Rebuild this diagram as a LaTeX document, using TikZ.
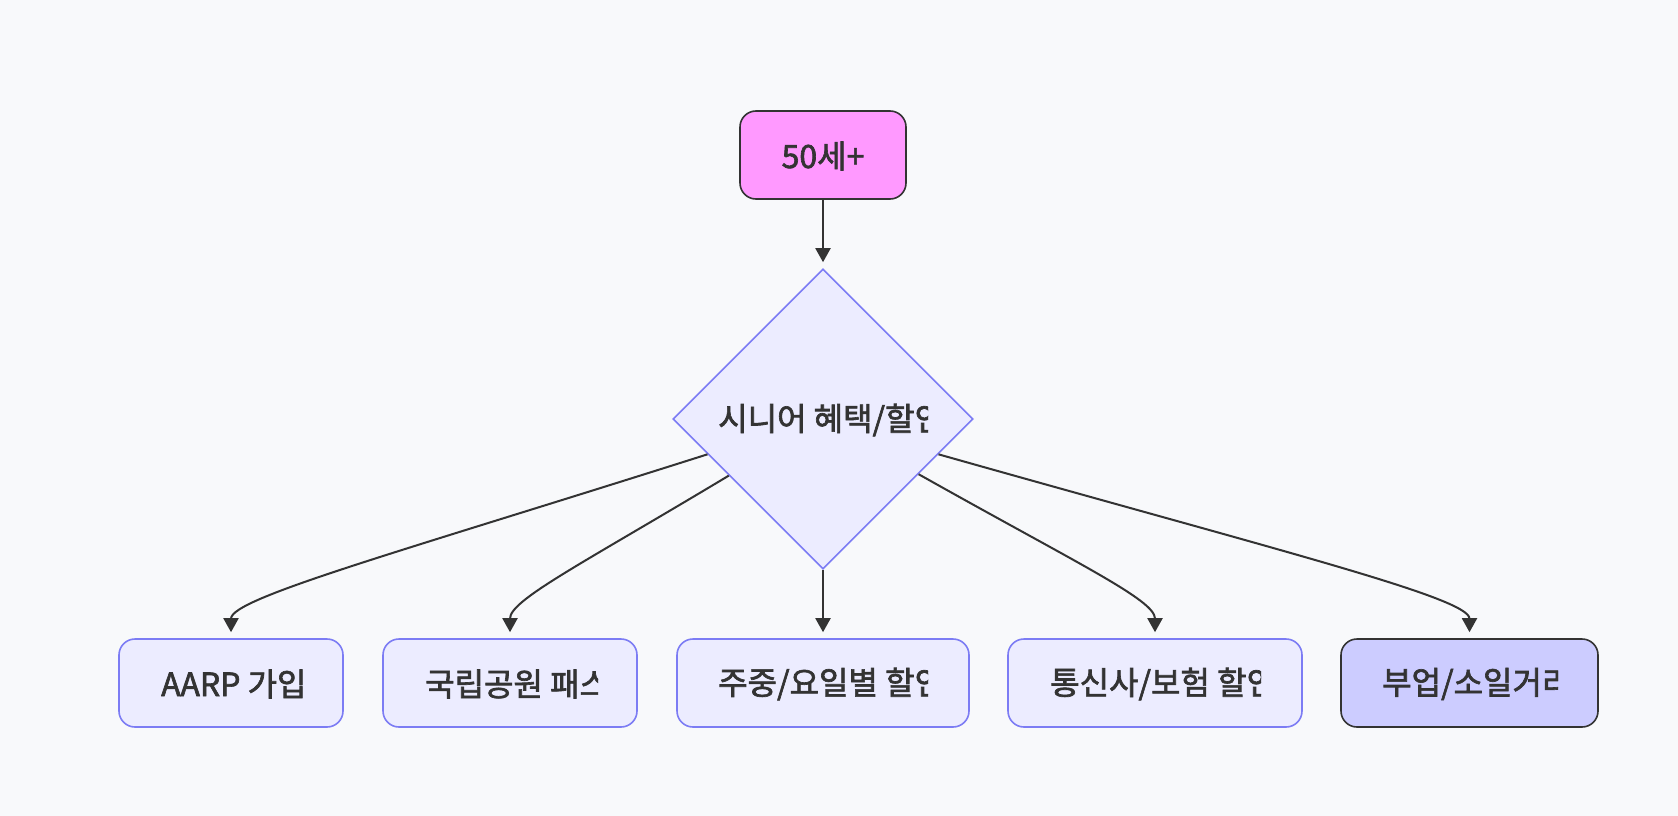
\documentclass[tikz,border=0pt]{standalone}
\usepackage{fontspec}
\setmainfont{Noto Sans CJK KR}
\newfontfamily\lblfont[FakeBold=2]{Noto Sans CJK KR}
\usetikzlibrary{arrows.meta,shapes.geometric}
\definecolor{bgc}{HTML}{F8F9FB}
\definecolor{nfill}{HTML}{ECECFF}
\definecolor{nstroke}{HTML}{7C7CF4}
\definecolor{pinkf}{HTML}{FF99FF}
\definecolor{lavf}{HTML}{CCCCFF}
\definecolor{ink}{HTML}{333333}
\tikzset{
  box/.style={draw=nstroke, fill=nfill, line width=1.6pt, rounded corners=16pt, inner sep=0pt},
  darkbox/.style={box, draw=ink},
  lbl/.style={anchor=west, inner sep=0pt, text=ink, font=\lblfont\fontsize{32}{38}\selectfont},
  edge/.style={draw=ink, line width=2pt, shorten >=6pt, -{Triangle[length=14pt,width=15pt]}}
}
\begin{document}
\begin{tikzpicture}[x=1pt,y=-1pt]
\fill[bgc] (0,0) rectangle (1678,816);
\useasboundingbox (0,0) rectangle (1678,816);
% nodes
\node[darkbox, fill=pinkf, minimum width=166pt, minimum height=88pt] (n50) at (823,155) {};
\node[diamond, draw=nstroke, fill=nfill, line width=1.6pt, minimum width=300pt, minimum height=300pt, inner sep=0pt, aspect=1] (dia) at (823,419) {};
\node[box, minimum width=224pt, minimum height=88pt] (b1) at (231,683) {};
\node[box, minimum width=254pt, minimum height=88pt] (b2) at (510,683) {};
\node[box, minimum width=292pt, minimum height=88pt] (b3) at (823,683) {};
\node[box, minimum width=294pt, minimum height=88pt] (b4) at (1155,683) {};
\node[darkbox, fill=lavf, minimum width=257pt, minimum height=88pt] (b5) at (1469.5,683) {};
% labels
\node[lbl, anchor=center] (t0) at (823,156) {50세+};
\begin{scope}\clip (718,380) rectangle (928,460);
\node[lbl] (t1) at (718,420) {시니어 혜택/할인};\end{scope}
\begin{scope}\clip (161,640) rectangle (305,725);
\node[lbl] (t2) at (161,684) {AARP 가입};\end{scope}
\begin{scope}\clip (425,640) rectangle (598,725);
\node[lbl] (t3) at (425,684) {국립공원 패스};\end{scope}
\begin{scope}\clip (718,640) rectangle (928,725);
\node[lbl] (t4) at (718,684) {주중/요일별 할인};\end{scope}
\begin{scope}\clip (1050,640) rectangle (1261,725);
\node[lbl] (t5) at (1050,684) {통신사/보험 할인};\end{scope}
\begin{scope}\clip (1382,640) rectangle (1558,725);
\node[lbl] (t6) at (1382,684) {부업/소일거리};\end{scope}
% edges
\draw[edge] (n50.south) -- (dia.north);
\draw[edge] (dia.197) .. controls (400,552) and (231,598) .. (b1.north);
\draw[edge] (dia.211.7) .. controls (580,565) and (510,600) .. (b2.north);
\draw[edge] (dia.south) -- (b3.north);
\draw[edge] (dia.330) .. controls (1080,565) and (1155,600) .. (b4.north);
\draw[edge] (dia.343) .. controls (1284,552) and (1469.5,598) .. (b5.north);
\end{tikzpicture}
\end{document}
